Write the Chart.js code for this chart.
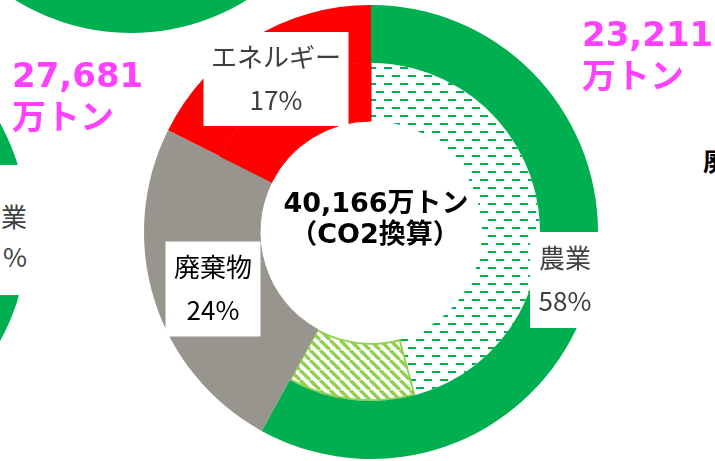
<!DOCTYPE html>
<html lang="ja">
<head>
<meta charset="utf-8">
<title>メタン排出量の内訳</title>
<script src="https://cdn.jsdelivr.net/npm/chart.js@4.4.1/dist/chart.umd.min.js"></script>
<style>
  html, body { margin: 0; padding: 0; background: #fff; }
  #wrap { position: relative; width: 715px; height: 461px; overflow: hidden; background: #fff; }
  #wrap canvas { position: absolute; }
  .total { position: absolute; color: #ff40ff; font: bold 34px "DejaVu Sans", "Noto Sans CJK JP"; line-height: 42px; white-space: nowrap; }
  .side { position: absolute; background: #fff; font: 26px "Noto Sans CJK JP"; color: #404040; white-space: nowrap; }
</style>
</head>
<body>
<div id="wrap">
  <canvas id="topDonut" width="440" height="440" style="left:-89px; top:-407px;"></canvas>
  <canvas id="leftDonut" width="454" height="454" style="left:-426px; top:5px;"></canvas>
  <canvas id="main" width="715" height="461" style="left:0; top:0;"></canvas>

  <div class="total" id="leftTotal" style="left:12px; top:54px;"></div>
  <div class="total" id="rightTotal" style="left:582px; top:13px;"></div>
  <div class="side" id="leftLabel" style="left:-60px; top:165px; width:96px; height:130px; text-align:right;"></div>
  <div class="side" style="left:703px; top:141px; color:#000; font-weight:bold;">廃棄物</div>
</div>

<script>
// 中央のグラフ（円の角度から読んだ比率）
const categories = ['農業', '廃棄物', 'エネルギー'];
const shares = [58.0, 24.4, 17.6];
const pctLabels = ['58%', '24%', '17%'];
// 農業の内訳（内側：点線ハッチ / 斜線ハッチ）
const agriParts = [45.8, 12.2];
const totalLabel = ['40,166万トン', '（CO2換算）'];

// 隣のグラフ（一部だけ見えている、推定値）
const topShares = [60, 24, 16];
const leftShares = [60, 24, 16];
const leftTotal = ['27,681', '万トン'];
const rightTotal = ['23,211', '万トン'];
const leftLabel = ['農業', '59', '%'];

const GREEN = '#00b050';
const LIGHT_GREEN = '#92d050';
const GRAY = '#97958e';
const RED = '#ff0000';

// 点線ハッチ
function dashPattern() {
    const c = document.createElement('canvas');
    c.width = 16; c.height = 16;
    const g = c.getContext('2d');
    g.fillStyle = '#fff';
    g.fillRect(0, 0, 16, 16);
    g.fillStyle = GREEN;
    g.fillRect(0, 3, 8, 2);
    g.fillRect(8, 11, 8, 2);
    return g.createPattern(c, 'repeat');
}

// 斜線ハッチ
function stripePattern() {
    const s = 10;
    const c = document.createElement('canvas');
    c.width = s; c.height = s;
    const g = c.getContext('2d');
    g.fillStyle = '#fff';
    g.fillRect(0, 0, s, s);
    g.strokeStyle = LIGHT_GREEN;
    g.lineWidth = 3.4;
    for (let k = -1; k <= 1; k++) {
        g.beginPath();
        g.moveTo(k * s, 0);
        g.lineTo(k * s + s, s);
        g.stroke();
    }
    return g.createPattern(c, 'repeat');
}

// ラベルの白い箱（グラフ中心からの位置）
const labelBoxes = [
    { dx: 194, dy: 48, w: 70, h: 96, color: '#404040' },     // 農業
    { dx: -158, dy: 57, w: 95, h: 95, color: '#000' },       // 廃棄物
    { dx: -95, dy: -153, w: 145, h: 94, color: '#404040' }   // エネルギー
];

const labelPlugin = {
    id: 'sliceLabels',
    afterDatasetsDraw(chart) {
        const ctx = chart.ctx;
        const arc = chart.getDatasetMeta(0).data[0];
        const cx = arc.x, cy = arc.y;
        ctx.save();
        ctx.textAlign = 'center';
        ctx.textBaseline = 'middle';
        categories.forEach((name, i) => {
            const b = labelBoxes[i];
            const x = cx + b.dx, y = cy + b.dy;
            ctx.fillStyle = '#fff';
            ctx.fillRect(x - b.w / 2, y - b.h / 2, b.w, b.h);
            ctx.fillStyle = b.color;
            ctx.font = '26px "Noto Sans CJK JP"';
            ctx.fillText(name, x, y - 22);
            ctx.fillText(pctLabels[i], x, y + 21);
        });
        ctx.fillStyle = '#000';
        ctx.font = 'bold 27px "DejaVu Sans", "Noto Sans CJK JP"';
        ctx.fillText(totalLabel[0], cx + 5, cy - 27);
        ctx.fillText(totalLabel[1], cx + 4, cy + 4);
        ctx.restore();
    }
};

new Chart(document.getElementById('main'), {
    type: 'doughnut',
    data: {
        labels: [categories[0] + '（点線）', categories[0] + '（斜線）', categories[1], categories[2]],
        datasets: [{
            data: shares, // 外側リング
            backgroundColor: [GREEN, GRAY, RED],
            borderWidth: 0,
            weight: 58
        }, {
            data: [...agriParts, shares[1], shares[2]], // 内側リング
            backgroundColor: [dashPattern(), stripePattern(), GRAY, RED],
            borderColor: [GREEN, LIGHT_GREEN, GRAY, RED],
            borderWidth: [0, 1.5, 1, 1],
            borderAlign: ['center', 'inner', 'center', 'center'],
            weight: 58
        }]
    },
    options: {
        responsive: false,
        animation: false,
        events: [],
        cutout: 111,
        rotation: 0,
        layout: { padding: { left: 144, right: 117, top: 5, bottom: 2 } },
        elements: { arc: { offset: 0, hoverOffset: 0 } },
        plugins: {
            legend: { display: false },
            tooltip: { enabled: false }
        }
    },
    plugins: [labelPlugin]
});

// 隣のグラフ（外側リングだけ）
function sideDonut(id, values) {
    new Chart(document.getElementById(id), {
        type: 'doughnut',
        data: {
            labels: categories,
            datasets: [{
                data: values,
                backgroundColor: [GREEN, GRAY, RED],
                borderWidth: 0
            }]
        },
        options: {
            responsive: false,
            animation: false,
            events: [],
            cutout: '51%',
            elements: { arc: { offset: 0, hoverOffset: 0 } },
            plugins: { legend: { display: false }, tooltip: { enabled: false } }
        }
    });
}
sideDonut('topDonut', topShares);
sideDonut('leftDonut', leftShares);

document.getElementById('leftTotal').innerHTML = leftTotal.join('<br>');
document.getElementById('rightTotal').innerHTML = rightTotal.join('<br>');
document.getElementById('leftLabel').innerHTML =
    '<div style="position:absolute; right:9px; top:38px; line-height:26px;">' + leftLabel[0] + '</div>' +
    '<div style="position:absolute; right:9px; top:78px; line-height:26px;"><span style="margin-right:8px;">' +
    leftLabel[1] + '</span>' + leftLabel[2] + '</div>';
</script>
</body>
</html>
